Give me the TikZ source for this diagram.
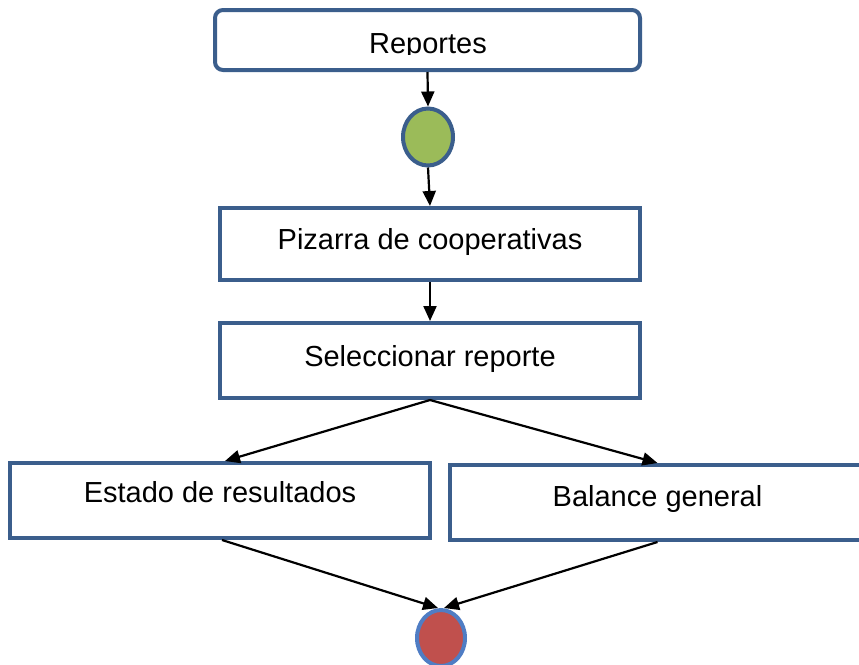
\documentclass[tikz,border=0pt]{standalone}
\usepackage{fontspec}
\setmainfont{Liberation Sans}
\usetikzlibrary{arrows.meta,shapes.geometric}
\definecolor{boxblue}{HTML}{3B5E8C}
\definecolor{lightblue}{HTML}{4F7DC4}
\definecolor{dotgreen}{HTML}{9BBB59}
\definecolor{dotred}{HTML}{C0504D}
\begin{document}
\begin{tikzpicture}[x=1pt,y=-1pt,
  box/.style={draw=boxblue, line width=4pt, fill=white, inner sep=0pt,
    font=\fontsize{29}{33}\selectfont, text height=21pt},
  dot/.style={ellipse, line width=4pt, inner sep=0pt},
  conn/.style={line width=2.2pt, -{Triangle[length=15pt,width=13pt]}}]
\clip (0,0) rectangle (859,664);
\node[box, rounded corners=8pt, minimum width=425pt, minimum height=60pt] (rep) at (427.5,40) {};
\begin{scope}
  \clip (200,0) rectangle (660,54);
  \node[font=\fontsize{29}{33}\selectfont, anchor=base] (reptext) at (428,53) {Reportes};
\end{scope}
\node[dot, draw=boxblue, fill=dotgreen, minimum width=50pt, minimum height=57pt] (g) at (428,137) {};
\node[box, text depth=10pt, minimum width=420pt, minimum height=72pt] (piz) at (430,244) {Pizarra de cooperativas};
\node[box, text depth=10pt, minimum width=420pt, minimum height=75pt] (sel) at (430,360.5) {Seleccionar reporte};
\node[box, text depth=18pt, minimum width=420pt, minimum height=75pt] (est) at (220,500.5) {Estado de resultados};
\node[box, text depth=14pt, minimum width=415pt, minimum height=75pt] (bal) at (657.5,502.5) {Balance general};
\node[dot, draw=lightblue, fill=dotred, minimum width=48pt, minimum height=56pt] (r) at (441,638) {};
\draw[conn] (rep.south) -- (g.north);
\draw[conn] (g.south) -- (piz.north);
\draw[conn] (piz.south) -- (sel.north);
\draw[conn] (sel.south) -- ([xshift=5pt]est.north);
\draw[conn] (sel.south) -- (bal.north);
\draw[conn] ([xshift=2pt]est.south) -- ([xshift=-3pt]r.north);
\draw[conn] (bal.south) -- ([xshift=3pt]r.north);
\end{tikzpicture}
\end{document}
